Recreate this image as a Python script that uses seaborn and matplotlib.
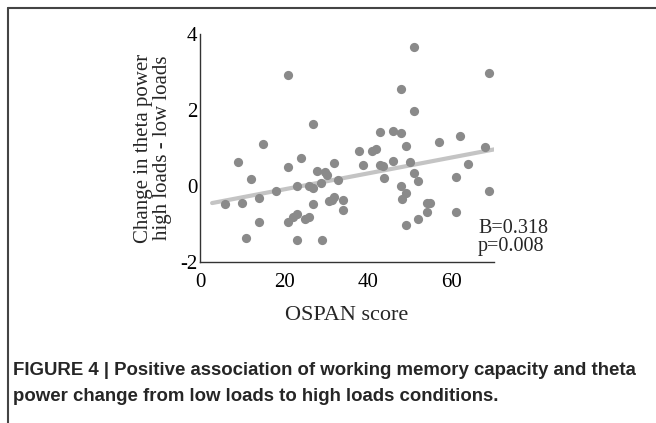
import numpy as np
import pandas as pd
import matplotlib
matplotlib.use('Agg')
import matplotlib.pyplot as plt
import seaborn as sns
from matplotlib.lines import Line2D

# OSPAN score vs change in theta power
ospan = [20.9, 27.0, 15.1, 51.0, 68.7, 47.9, 51.0, 42.9, 46.0, 47.9,
         49.0, 57.0, 62.0, 67.9, 37.9, 40.9, 41.9, 32.0, 38.9, 42.9,
         43.6, 46.0, 50.0, 43.9, 51.0, 52.0, 63.9, 61.0, 68.7, 32.9,
         31.4, 34.0, 34.0, 47.9, 49.0, 48.0, 54.0, 54.8, 54.0, 52.0,
         49.0, 61.0, 9.1, 12.1, 20.9, 24.0, 27.8, 29.8, 30.2, 28.8,
         23.0, 26.0, 27.0, 18.1, 6.0, 10.0, 14.0, 27.0, 30.8, 32.0,
         14.0, 21.0, 22.2, 23.2, 25.0, 26.0, 11.0, 23.0, 29.0]
theta = [2.92, 1.63, 1.10, 3.67, 2.97, 2.56, 1.98, 1.42, 1.44, 1.39,
         1.05, 1.15, 1.32, 1.03, 0.92, 0.92, 0.97, 0.61, 0.55, 0.55,
         0.53, 0.67, 0.62, 0.20, 0.35, 0.14, 0.57, 0.25, -0.12, 0.16,
         -0.37, -0.37, -0.63, 0.00, -0.19, -0.35, -0.44, -0.44, -0.68, -0.88,
         -1.03, -0.68, 0.62, 0.18, 0.51, 0.73, 0.39, 0.36, 0.29, 0.09,
         0.01, 0.01, -0.06, -0.13, -0.47, -0.44, -0.32, -0.47, -0.39, -0.28,
         -0.95, -0.94, -0.81, -0.74, -0.87, -0.82, -1.38, -1.42, -1.42]
stats_text = ['B=0.318', 'p=0.008']

df = pd.DataFrame({'OSPAN score': ospan, 'theta': theta})

sns.set_style('white')
plt.rcParams['font.family'] = ['Liberation Serif', 'DejaVu Serif']
plt.rcParams['axes.unicode_minus'] = False

fig = plt.figure(figsize=(6.56, 4.23), dpi=100)
ax = fig.add_axes([0.305, 0.3806, 0.448, 0.539])

sns.regplot(data=df, x='OSPAN score', y='theta', ax=ax, ci=None, truncate=False,
            scatter_kws={'s': 44, 'color': '#8a8a8a', 'alpha': 1, 'linewidths': 0, 'zorder': 3},
            line_kws={'color': '#c4c4c4', 'lw': 3, 'zorder': 2})

ax.set_xlim(0, 70)
ax.set_ylim(-2, 4)
ax.set_xticks([0, 20, 40, 60])
ax.set_yticks([-2, 0, 2, 4])
ax.tick_params(direction='in', length=3, width=0.8, labelsize=15, colors='#222222')
ax.tick_params(axis='both', labelcolor='black')
ax.tick_params(axis='x', pad=8)
ax.tick_params(axis='y', pad=2)
sns.despine(ax=ax)
for s in ['left', 'bottom']:
    ax.spines[s].set_color('#333333')
    ax.spines[s].set_linewidth(1.0)

ax.set_xlabel('OSPAN score', fontsize=16, labelpad=10)
ax.set_ylabel('Change in theta power\nhigh loads - low loads', fontsize=15,
              labelpad=6, linespacing=1.0)

ax.text(66.2, -1.12, stats_text[0], fontsize=14.5, va='center', ha='left', clip_on=False)
ax.text(66.2, -1.58, stats_text[1], fontsize=14.5, va='center', ha='left', clip_on=False)

# frame around the figure panel (top and left)
fig.add_artist(Line2D([8 / 656, 1], [1 - 8 / 423, 1 - 8 / 423], color='#444444', lw=1.5,
                      transform=fig.transFigure))
fig.add_artist(Line2D([8 / 656, 8 / 656], [0, 1 - 8 / 423], color='#444444', lw=1.5,
                      transform=fig.transFigure))

cap_font = ['Liberation Sans Narrow', 'Liberation Sans', 'DejaVu Sans']
fig.text(13 / 656, 1 - 370 / 423,
         'FIGURE 4 | Positive association of working memory capacity and theta',
         fontsize=13.4, fontweight='bold', family=cap_font, va='center', ha='left')
fig.text(13 / 656, 1 - 396 / 423,
         'power change from low loads to high loads conditions.',
         fontsize=13.4, fontweight='bold', family=cap_font, va='center', ha='left')

fig.savefig('out.png', dpi=100)
